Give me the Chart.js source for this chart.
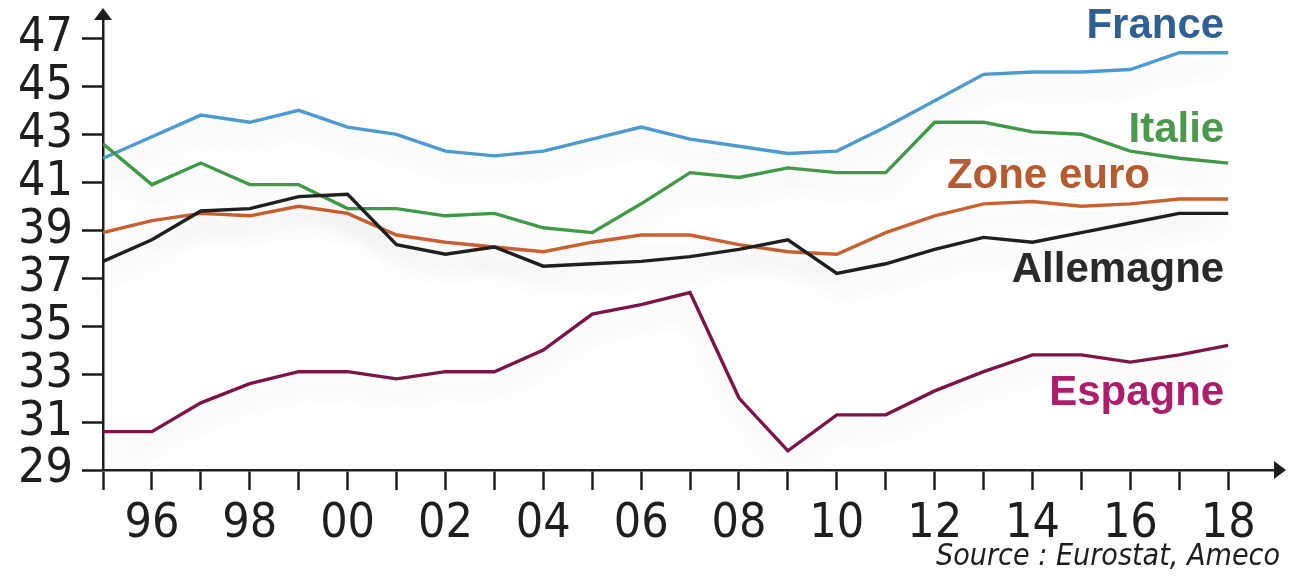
<!DOCTYPE html>
<html lang="fr">
<head>
<meta charset="utf-8">
<title>Prélèvements obligatoires</title>
<script src="https://cdn.jsdelivr.net/npm/chart.js@4/dist/chart.umd.min.js"></script>
<style>
  html, body { margin: 0; padding: 0; background: #ffffff; }
  #wrap { width: 1301px; height: 576px; }
</style>
</head>
<body>
<div id="wrap"><canvas id="chart" width="1301" height="576"></canvas></div>
<script>
// Années (axe horizontal) et graduations
const years = [1995, 1996, 1997, 1998, 1999, 2000, 2001, 2002, 2003, 2004, 2005, 2006,
               2007, 2008, 2009, 2010, 2011, 2012, 2013, 2014, 2015, 2016, 2017, 2018];
const yTicks = [29, 31, 33, 35, 37, 39, 41, 43, 45, 47];

// Séries, en % du PIB
const france = [42.0, 42.9, 43.8, 43.5, 44.0, 43.3, 43.0, 42.3, 42.1, 42.3, 42.8, 43.3,
                42.8, 42.5, 42.2, 42.3, 43.3, 44.4, 45.5, 45.6, 45.6, 45.7, 46.4, 46.4];
const italie = [42.6, 40.9, 41.8, 40.9, 40.9, 39.9, 39.9, 39.6, 39.7, 39.1, 38.9, 40.1,
                41.4, 41.2, 41.6, 41.4, 41.4, 43.5, 43.5, 43.1, 43.0, 42.3, 42.0, 41.8];
const zoneEuro = [38.9, 39.4, 39.7, 39.6, 40.0, 39.7, 38.8, 38.5, 38.3, 38.1, 38.5, 38.8,
                  38.8, 38.4, 38.1, 38.0, 38.9, 39.6, 40.1, 40.2, 40.0, 40.1, 40.3, 40.3];
const allemagne = [37.7, 38.6, 39.8, 39.9, 40.4, 40.5, 38.4, 38.0, 38.3, 37.5, 37.6, 37.7,
                   37.9, 38.2, 38.6, 37.2, 37.6, 38.2, 38.7, 38.5, 38.9, 39.3, 39.7, 39.7];
const espagne = [30.6, 30.6, 31.8, 32.6, 33.1, 33.1, 32.8, 33.1, 33.1, 34.0, 35.5, 35.9,
                 36.4, 32.0, 29.8, 31.3, 31.3, 32.3, 33.1, 33.8, 33.8, 33.5, 33.8, 34.2];

const seriesNames = ['France', 'Italie', 'Zone euro', 'Allemagne', 'Espagne'];
const seriesValues = [france, italie, zoneEuro, allemagne, espagne];
const sourceText = 'Source : Eurostat, Ameco';

const lineColors = ['#4b9bd1', '#3f9a46', '#c9602f', '#1f1f1f', '#7c1448'];
const labelColors = ['#2f6094', '#4b9a4b', '#b85a30', '#2a2a2a', '#ad1d6c'];

const narrow = "'Liberation Sans Narrow', 'DejaVu Sans Condensed', 'Liberation Sans', sans-serif";
const ink = '#1e1e1e';

// Étiquettes des courbes : ancrage (année du bord droit, valeur de la ligne de base)
const labelAnchors = [
  { year: 2018, value: 47.0, dx: -4 },
  { year: 2018, value: 42.67, dx: -4 },
  { year: 2016.4, value: 40.75, dx: 0 },
  { year: 2018, value: 36.85, dx: -4 },
  { year: 2018, value: 31.7, dx: -4 }
];

const shadowPlugin = {
  id: 'lineShadow',
  beforeDatasetDraw(chart) {
    const ctx = chart.ctx;
    ctx.save();
    ctx.shadowColor = 'rgba(0,0,0,0.18)';
    ctx.shadowBlur = 24;
    ctx.shadowOffsetY = 16;
  },
  afterDatasetDraw(chart) {
    chart.ctx.restore();
  }
};

const decorPlugin = {
  id: 'decor',
  afterDraw(chart) {
    const ctx = chart.ctx;
    const area = chart.chartArea;
    const xs = chart.scales.x;
    const ys = chart.scales.y;
    ctx.save();
    // flèches des axes
    ctx.fillStyle = ink;
    ctx.beginPath();
    ctx.moveTo(area.left, area.top - 4);
    ctx.lineTo(area.left - 9, area.top + 8);
    ctx.lineTo(area.left + 9, area.top + 8);
    ctx.closePath();
    ctx.fill();
    ctx.beginPath();
    ctx.moveTo(area.right + 4, area.bottom);
    ctx.lineTo(area.right - 8, area.bottom - 9);
    ctx.lineTo(area.right - 8, area.bottom + 9);
    ctx.closePath();
    ctx.fill();

    // noms des séries
    ctx.font = "bold 42px 'Liberation Sans', 'DejaVu Sans', sans-serif";
    ctx.textAlign = 'right';
    ctx.textBaseline = 'alphabetic';
    seriesNames.forEach((name, i) => {
      const a = labelAnchors[i];
      ctx.fillStyle = labelColors[i];
      ctx.fillText(name, xs.getPixelForValue(a.year) + a.dx, ys.getPixelForValue(a.value));
    });

    // source
    ctx.font = 'italic 31px ' + narrow;
    ctx.fillStyle = ink;
    ctx.textAlign = 'right';
    ctx.fillText(sourceText, chart.width - 21, chart.height - 11, 344);
    ctx.restore();
  }
};

const datasets = seriesNames.map((name, i) => ({
  label: name,
  data: years.map((y, k) => ({ x: y, y: seriesValues[i][k] })),
  borderColor: lineColors[i],
  backgroundColor: lineColors[i],
  borderWidth: 3.4,
  pointRadius: 0,
  tension: 0,
  fill: false
})).reverse();

new Chart(document.getElementById('chart'), {
  type: 'line',
  data: { datasets },
  plugins: [shadowPlugin, decorPlugin],
  options: {
    responsive: false,
    animation: false,
    layout: { padding: { top: 12, right: 19, left: 0, bottom: 0 } },
    plugins: { legend: { display: false }, tooltip: { enabled: false } },
    scales: {
      x: {
        type: 'linear',
        min: 1995,
        max: 2019.1,
        afterBuildTicks: (s) => { s.ticks = years.map(v => ({ value: v })); },
        afterFit: (s) => { s.height = 106; s.paddingLeft = 0; s.paddingRight = 0; },
        ticks: {
          autoSkip: false,
          maxRotation: 0,
          padding: 6,
          color: ink,
          font: { family: narrow, size: 48 },
          callback: (v) => (v % 2 === 0 ? String(v % 100).padStart(2, '0') : '')
        },
        grid: { drawOnChartArea: false, drawTicks: true, tickLength: 20, tickColor: ink, tickWidth: 2.5 },
        border: { display: true, color: ink, width: 2.5 }
      },
      y: {
        type: 'linear',
        min: 29,
        max: 48.1,
        afterBuildTicks: (s) => { s.ticks = yTicks.map(v => ({ value: v })); },
        afterFit: (s) => { s.width = 103; s.paddingTop = 0; s.paddingBottom = 0; },
        ticks: {
          autoSkip: false,
          padding: 9,
          color: ink,
          font: { family: narrow, size: 48 },
          callback: (v) => String(v)
        },
        grid: { drawOnChartArea: false, drawTicks: true, tickLength: 21, tickColor: ink, tickWidth: 2.5 },
        border: { display: true, color: ink, width: 2.5 }
      }
    }
  }
});
</script>
</body>
</html>
